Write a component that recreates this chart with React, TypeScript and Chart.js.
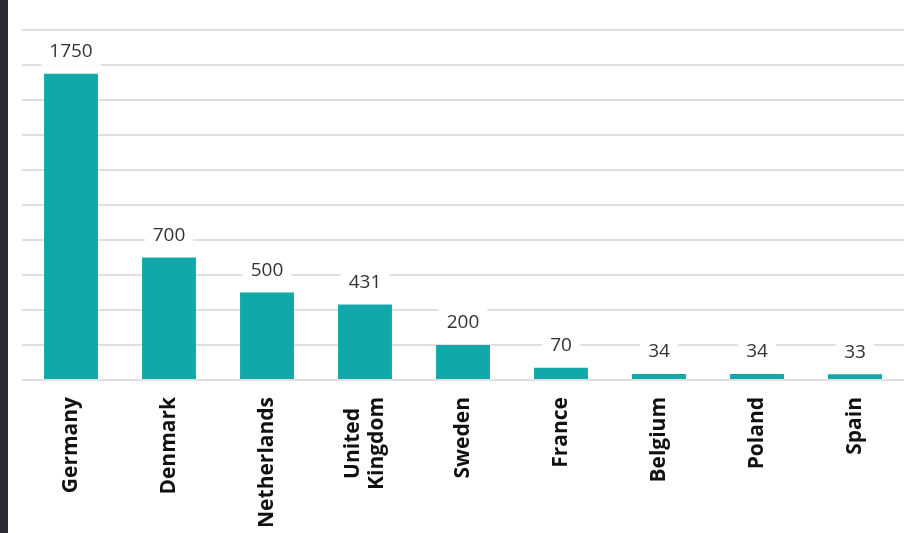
import React, { useEffect, useRef } from 'react';
import { Chart, registerables } from 'chart.js';

Chart.register(...registerables);

const countries: (string | string[])[] = [
  'Germany',
  'Denmark',
  'Netherlands',
  ['United', 'Kingdom'],
  'Sweden',
  'France',
  'Belgium',
  'Poland',
  'Spain',
];
const capacities = [1750, 700, 500, 431, 200, 70, 34, 34, 33];
const yAxisMin = 0;
const yAxisMax = 2000;
const yAxisStep = 200;

const CANVAS_W = 906;
const CANVAS_H = 560;
const PLOT_BOTTOM = 380;
const TICK_FONT_SIZE = 21;
const TICK_LINE_HEIGHT = 1.15;
const TICK_FONT = `bold ${TICK_FONT_SIZE}px "Open Sans"`;

const valueLabels = {
  id: 'valueLabels',
  afterDatasetsDraw(chart: any) {
    const ctx = chart.ctx as CanvasRenderingContext2D;
    const meta = chart.getDatasetMeta(0);
    ctx.save();
    ctx.font = '19px "Open Sans"';
    ctx.textAlign = 'center';
    ctx.textBaseline = 'middle';
    meta.data.forEach((bar: any, i: number) => {
      const txt = String(capacities[i]);
      const w = ctx.measureText(txt).width + 16;
      const cy = bar.y - 23;
      ctx.fillStyle = '#ffffff';
      ctx.fillRect(bar.x - w / 2, cy - 15, w, 30);
      ctx.fillStyle = '#333333';
      ctx.fillText(txt, bar.x, cy + 1);
    });
    ctx.restore();
  },
};

// Centre multi-line rotated tick labels on their tick and centre the lines on each other.
const centreMultiLineTicks = {
  id: 'centreMultiLineTicks',
  beforeDraw(chart: any) {
    const scale = chart.scales.x;
    if (!scale || !scale.getLabelItems) return;
    const items = scale.getLabelItems();
    const lh = TICK_FONT_SIZE * TICK_LINE_HEIGHT;
    const ctx = chart.ctx as CanvasRenderingContext2D;
    ctx.save();
    ctx.font = TICK_FONT;
    items.forEach((item: any) => {
      if (!Array.isArray(item.label) || item.label.length < 2) return;
      const o = item.options;
      if (!o || !o.translation) return;
      const maxW = Math.max(...item.label.map((s: string) => ctx.measureText(s).width));
      o.translation[0] -= ((item.label.length - 1) * lh) / 2;
      o.translation[1] += maxW / 2;
      o.textAlign = 'center';
    });
    ctx.restore();
  },
};

export default function App() {
  const canvasRef = useRef<HTMLCanvasElement | null>(null);

  useEffect(() => {
    let chart: Chart | null = null;
    let cancelled = false;
    const make = () => {
      if (cancelled || !canvasRef.current) return;
      chart = new Chart(canvasRef.current, {
        type: 'bar',
        data: {
          labels: countries as any,
          datasets: [
            {
              data: capacities,
              backgroundColor: '#10a8a8',
              borderWidth: 0,
              barPercentage: 0.55,
              categoryPercentage: 1,
            },
          ],
        },
        options: {
          responsive: false,
          animation: false,
          layout: { padding: { top: 30, left: 22, right: 2, bottom: 0 } },
          plugins: {
            legend: { display: false },
            tooltip: { enabled: false },
            title: { display: false },
          },
          scales: {
            x: {
              grid: { display: false, drawTicks: false },
              border: { display: false },
              ticks: {
                autoSkip: false,
                minRotation: 90,
                maxRotation: 90,
                padding: 17,
                color: '#111111',
                font: { family: '"Open Sans"', size: TICK_FONT_SIZE, weight: 'bold', lineHeight: TICK_LINE_HEIGHT },
              },
              afterFit: (scale: any) => {
                scale.height = CANVAS_H - PLOT_BOTTOM;
              },
            },
            y: {
              min: yAxisMin,
              max: yAxisMax,
              ticks: { display: false, stepSize: yAxisStep },
              grid: { color: '#e0e0e0', lineWidth: 2, drawTicks: false },
              border: { display: false },
            },
          },
        },
        plugins: [centreMultiLineTicks, valueLabels],
      });
    };
    const fontsReady = (document as any).fonts
      ? Promise.all([
          (document as any).fonts.load(TICK_FONT),
          (document as any).fonts.load('19px "Open Sans"'),
        ]).catch(() => null)
      : Promise.resolve(null);
    fontsReady.then(make);
    return () => {
      cancelled = true;
      if (chart) chart.destroy();
    };
  }, []);

  return (
    <div style={{ position: 'absolute', left: 0, top: 0, width: CANVAS_W, height: CANVAS_H, background: '#ffffff', overflow: 'hidden' }}>
      <canvas ref={canvasRef} width={CANVAS_W} height={CANVAS_H} style={{ display: 'block' }} />
      <div style={{ position: 'absolute', left: 0, top: 0, width: 8, height: CANVAS_H, background: '#2c2b34' }} />
    </div>
  );
}
